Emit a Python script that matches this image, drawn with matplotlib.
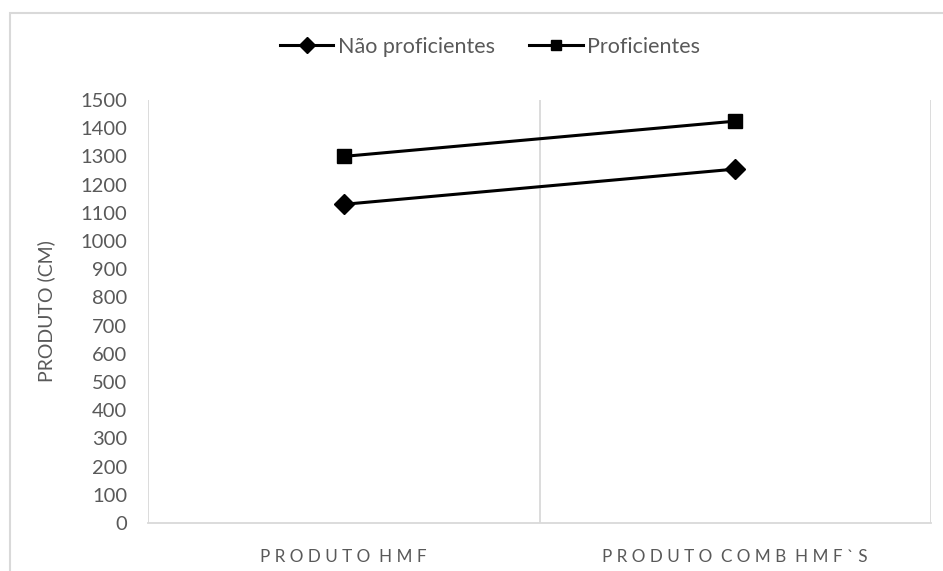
import matplotlib
matplotlib.use("Agg")
import matplotlib.pyplot as plt
from matplotlib.patches import Rectangle

categories = ["PRODUTO HMF", "PRODUTO COMB HMF`S"]
nao_proficientes = [1130, 1255]
proficientes = [1300, 1425]
y_ticks = list(range(0, 1501, 100))

plt.rcParams['font.family'] = ['Lato', 'DejaVu Sans']

W, H = 943, 571
fig = plt.figure(figsize=(W / 100, H / 100), dpi=100)
fig.patch.set_facecolor("white")

# chart frame
fig.patches.append(Rectangle((10 / W, -0.1), 1.2, 1 - 13 / H + 0.1,
                             transform=fig.transFigure, fill=False,
                             edgecolor="#d9d9d9", linewidth=1.5))

ax = fig.add_axes([148 / W, 1 - 523 / H, (931 - 148) / W, (523 - 100) / H])
x = list(range(len(categories)))

ax.plot(x, nao_proficientes, color="black", linewidth=2.2, marker="D",
        markersize=10.5, label="Não proficientes")
ax.plot(x, proficientes, color="black", linewidth=2.2, marker="s",
        markersize=10.5, label="Proficientes")

ax.set_xlim(-0.5, len(categories) - 0.5)
ax.set_ylim(0, 1500)
ax.set_yticks(y_ticks)
ax.set_yticklabels([str(v) for v in y_ticks], fontsize=14.5, color="#595959")

def spaced(s):
    return " ".join(s.replace(" ", "  ")).replace("     ", "  ")

ax.set_xticks(x)
ax.set_xticklabels([spaced(c) for c in categories], fontsize=12.3, color="#595959")
ax.tick_params(axis="both", length=0)
ax.tick_params(axis="x", pad=19)
ax.tick_params(axis="y", pad=15)

# category separators
for b in [i + 0.5 for i in range(-1, len(categories))]:
    ax.axvline(b, color="#d9d9d9", linewidth=1.3, zorder=0)

for side in ["top", "right", "left"]:
    ax.spines[side].set_visible(False)
ax.spines["bottom"].set_color("#d9d9d9")
ax.spines["bottom"].set_linewidth(1.3)

ax.set_ylabel("PRODUTO (CM)", fontsize=14, color="#595959", labelpad=18)

fig.legend(loc="center", bbox_to_anchor=(490 / W, 1 - 47 / H), ncol=2,
           frameon=False, fontsize=15.5, labelcolor="#595959",
           handlelength=2.5, columnspacing=1.6, handletextpad=0.2,
           markerscale=0.75)

fig.savefig("out.png", dpi=100)
